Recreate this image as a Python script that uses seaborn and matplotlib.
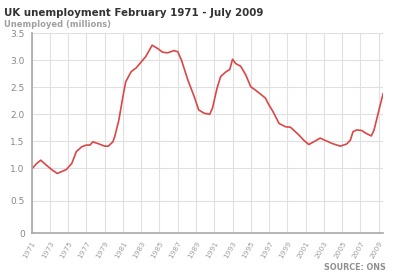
import numpy as np
import pandas as pd
import matplotlib
matplotlib.use("Agg")
import matplotlib.pyplot as plt
import seaborn as sns

# Data (year fraction, unemployed millions)
years = [1971.1, 1971.5, 1972.0, 1972.6, 1973.2, 1973.8, 1974.3, 1974.8, 1975.4, 1975.9,
         1976.5, 1977.0, 1977.4, 1977.7, 1978.4, 1979.0, 1979.4, 1979.9, 1980.1, 1980.55,
         1981.0, 1981.3, 1981.9, 1982.45, 1983.0, 1983.5, 1984.2, 1984.8, 1985.35, 1985.9,
         1986.6, 1987.0, 1987.4, 1988.1, 1988.8, 1989.3, 1989.9, 1990.5, 1990.8, 1991.3,
         1991.7, 1992.3, 1992.7, 1993.0, 1993.35, 1993.9, 1994.45, 1995.0, 1995.5, 1996.1,
         1996.6, 1997.0, 1997.4, 1998.1, 1998.8, 1999.35, 2000.25, 2000.8, 2001.35, 2002.1,
         2002.6, 2003.1, 2003.9, 2004.8, 2005.5, 2005.9, 2006.2, 2006.6, 2007.15, 2007.7,
         2008.2, 2008.5, 2008.95, 2009.5]
unemployed = [1.00, 1.08, 1.15, 1.06, 0.98, 0.92, 0.95, 0.98, 1.09, 1.31,
              1.40, 1.43, 1.43, 1.49, 1.45, 1.41, 1.41, 1.49, 1.585, 1.89,
              2.33, 2.60, 2.79, 2.86, 2.97, 3.07, 3.28, 3.22, 3.15, 3.14,
              3.18, 3.16, 3.01, 2.64, 2.33, 2.08, 2.02, 2.00, 2.11, 2.48,
              2.70, 2.79, 2.83, 3.02, 2.94, 2.89, 2.73, 2.51, 2.45, 2.37,
              2.30, 2.17, 2.06, 1.83, 1.77, 1.76, 1.62, 1.52, 1.44, 1.51,
              1.56, 1.52, 1.46, 1.41, 1.45, 1.52, 1.68, 1.71, 1.70, 1.64,
              1.60, 1.71, 2.02, 2.39]
y_ticks = [0, 0.5, 1.0, 1.5, 2.0, 2.5, 3.0, 3.5]
y_tick_labels = ["0", "0.5", "1.0", "1.5", "2.0", "2.5", "3.0", "3.5"]
x_ticks = list(range(1971, 2010, 2))

df = pd.DataFrame({"year": years, "unemployed": unemployed})

sns.set_style("white")
plt.rcParams['font.family'] = ['DejaVu Sans']

fig = plt.figure(figsize=(4.0, 2.78), dpi=100)
ax = fig.add_axes([0.079, 0.161, 0.879, 0.719])

sns.lineplot(data=df, x="year", y="unemployed", ax=ax, color="#dc4646", linewidth=1.2)

# reference's y axis is non-uniform: 0-1 takes more space per unit than 1-3.5
def fwd(y):
    y = np.asarray(y, dtype=float)
    return np.where(y <= 1.0, y * 65.0, 65.0 + (y - 1.0) * 54.0)

def inv(p):
    p = np.asarray(p, dtype=float)
    return np.where(p <= 65.0, p / 65.0, 1.0 + (p - 65.0) / 54.0)

ax.set_yscale('function', functions=(fwd, inv))
ax.set_ylim(0, 3.5)
ax.set_xlim(1971, 2009.5)
ax.set_yticks(y_ticks)
ax.set_yticklabels(y_tick_labels)
ax.set_xticks(x_ticks)
ax.set_xticklabels([str(t) for t in x_ticks], rotation=60, ha="right", rotation_mode="anchor")
ax.minorticks_off()

ax.grid(True, color="#e0e0e0", linewidth=0.8)
ax.set_axisbelow(True)
for s in ["top", "right"]:
    ax.spines[s].set_visible(False)
for s in ["left", "bottom"]:
    ax.spines[s].set_color("#a8a8a8")
    ax.spines[s].set_linewidth(1.2)
ax.tick_params(axis="both", colors="#a8a8a8", length=3, width=0.8)
ax.tick_params(axis="y", labelsize=6.5, pad=2, labelcolor="#888888")
ax.tick_params(axis="x", labelsize=5.3, pad=2, labelcolor="#a0a0a0")
ax.set_xlabel("")
ax.set_ylabel("")

fig.text(0.01, 0.955, "UK unemployment February 1971 - July 2009", fontsize=7.4,
         fontweight="bold", color="#333333", ha="left", va="center")
fig.text(0.01, 0.912, "Unemployed (millions)", fontsize=6.0, fontweight="bold",
         color="#a0a0a0", ha="left", va="center")
fig.text(0.965, 0.038, "SOURCE: ONS", fontsize=5.8, fontweight="bold",
         color="#909090", ha="right", va="center")

fig.savefig("out.png", dpi=100)
